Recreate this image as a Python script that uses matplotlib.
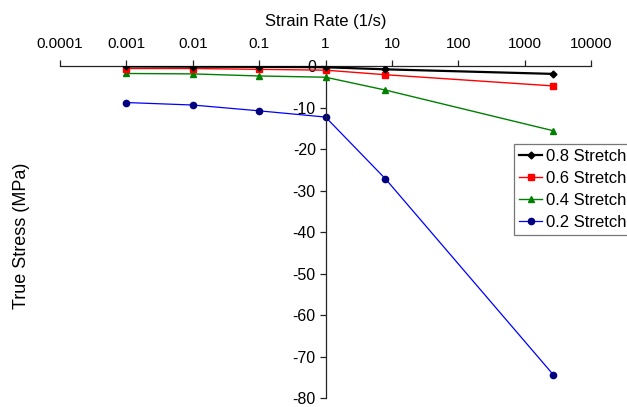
import matplotlib
matplotlib.use("Agg")
import matplotlib.pyplot as plt
from matplotlib.ticker import FixedLocator, FuncFormatter, NullLocator

plt.rcParams['font.family'] = ['Liberation Sans', 'DejaVu Sans']
plt.rcParams['axes.unicode_minus'] = False

# strain rates (1/s) and true stress (MPa) for each stretch level
strain_rate = [0.001, 0.01, 0.1, 1, 8, 2700]
stress_08 = [-0.1, -0.15, -0.2, -0.3, -0.8, -1.9]
stress_06 = [-0.6, -0.6, -0.8, -1.0, -2.1, -4.8]
stress_04 = [-1.8, -1.9, -2.4, -2.7, -5.8, -15.6]
stress_02 = [-8.8, -9.4, -10.8, -12.3, -27.2, -74.4]

x_ticks = [1e-4, 1e-3, 1e-2, 1e-1, 1, 10, 100, 1000, 10000]
y_ticks = [0, -10, -20, -30, -40, -50, -60, -70, -80]

fig = plt.figure(figsize=(6.27, 4.07), dpi=100)
ax = fig.add_axes([0.0957, 0.0221, 0.847, 0.8157])

ax.plot(strain_rate, stress_08, color='black', lw=1.6, marker='D', ms=3.5,
        mfc='black', mec='black', label='0.8 Stretch', zorder=5)
ax.plot(strain_rate, stress_06, color='#ff0000', lw=1.0, marker='s', ms=5,
        mfc='#ff0000', mec='#ff0000', label='0.6 Stretch', zorder=4)
ax.plot(strain_rate, stress_04, color='#008000', lw=1.0, marker='^', ms=5,
        mfc='#008000', mec='#008000', label='0.4 Stretch', zorder=3)
ax.plot(strain_rate, stress_02, color='#0000ff', lw=0.9, marker='o', ms=4.5,
        mfc='#000080', mec='#000080', label='0.2 Stretch', zorder=2)

ax.set_xscale('log')
ax.set_xlim(1e-4, 1e4)
ax.set_ylim(-80, 0)

# x axis runs along the top at zero stress, y axis crosses at rate = 1
ax.spines['bottom'].set_visible(False)
ax.spines['right'].set_visible(False)
ax.spines['left'].set_position(('data', 1))
for s in ('top', 'left'):
    ax.spines[s].set_color('#222222')
    ax.spines[s].set_linewidth(0.9)

ax.xaxis.set_ticks_position('top')
ax.xaxis.set_label_position('top')
ax.xaxis.set_major_locator(FixedLocator(x_ticks))
ax.xaxis.set_minor_locator(NullLocator())
ax.xaxis.set_major_formatter(FuncFormatter(lambda v, p: '%g' % v))
ax.yaxis.set_major_locator(FixedLocator(y_ticks))
ax.tick_params(axis='x', direction='out', length=4.5, width=0.9, pad=6,
               labelsize=11, colors='#222222', labelcolor='black')
ax.tick_params(axis='y', direction='out', length=4, width=0.9, pad=3,
               labelsize=11.5, colors='#222222', labelcolor='black')

ax.set_xlabel('Strain Rate (1/s)', fontsize=12, labelpad=8)
ax.set_ylabel('True Stress (MPa)', fontsize=13)
ax.yaxis.set_label_coords(-0.056, 0.49)

leg = fig.legend(loc='upper left', bbox_to_anchor=(0.82, 0.646), fontsize=12,
                 frameon=True, fancybox=False, handlelength=1.4,
                 handletextpad=0.2, borderpad=0.3, labelspacing=0.42,
                 borderaxespad=0)
leg.get_frame().set_edgecolor('#555555')
leg.get_frame().set_linewidth(0.9)

fig.savefig('out.png', dpi=100)
